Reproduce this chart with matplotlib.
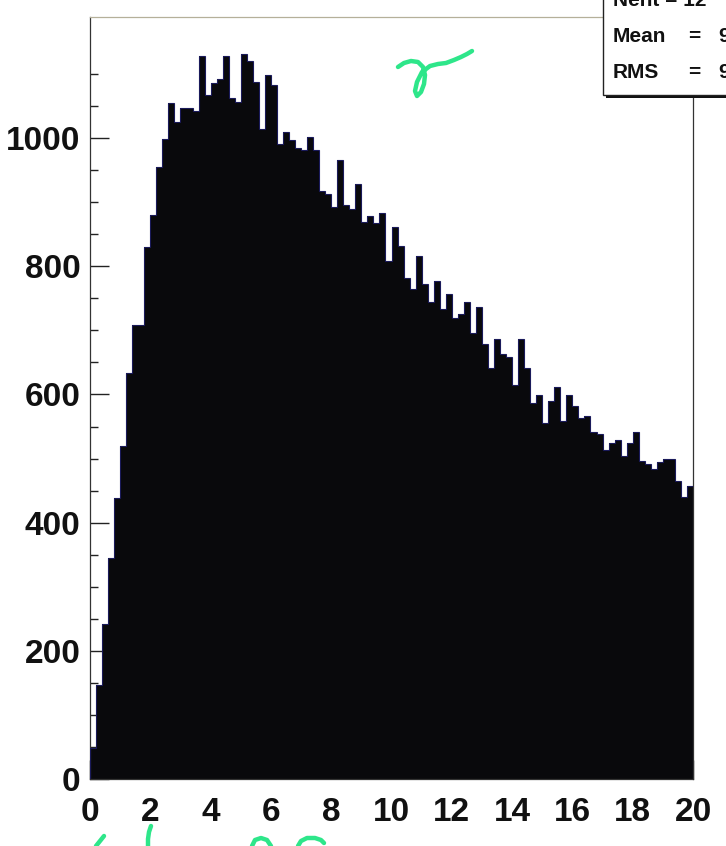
import numpy as np
import matplotlib.pyplot as plt
from matplotlib.lines import Line2D
from matplotlib.patches import Rectangle

# contenu des 100 bins (0 -> 20)
counts = [48, 147, 242, 345, 438, 520, 633, 709, 709, 830,
          880, 955, 998, 1055, 1025, 1047, 1047, 1043, 1128, 1068,
          1086, 1092, 1128, 1063, 1057, 1131, 1121, 1088, 1014, 1098,
          1083, 991, 1010, 997, 985, 982, 1002, 981, 917, 913,
          893, 966, 895, 890, 928, 869, 878, 867, 883, 809,
          861, 832, 781, 764, 816, 773, 745, 777, 733, 757,
          720, 725, 745, 696, 737, 679, 642, 686, 663, 659,
          615, 686, 641, 586, 599, 555, 590, 612, 559, 599,
          582, 563, 566, 542, 539, 513, 525, 529, 504, 525,
          542, 496, 492, 483, 495, 499, 499, 465, 440, 457]
x_min, x_max = 0, 20
x_ticks = [0, 2, 4, 6, 8, 10, 12, 14, 16, 18, 20]
y_ticks = [0, 200, 400, 600, 800, 1000]

stat_labels = ['Nent = 12', 'Mean', 'RMS']
stat_values = ['', '9', '9']

# traits verts (annotations a la main), en pixels
gamma_x = [398, 404, 411, 418, 423, 425, 424, 421, 417, 415, 417, 422, 430, 438, 446, 454, 461, 467, 472]
gamma_y = [67, 63, 61, 62, 67, 75, 84, 92, 96, 91, 82, 72, 66, 64, 63, 60, 57, 54, 51]
marks = [
    ([104, 100, 96], [836, 841, 846]),
    ([151, 149, 148, 148], [826, 832, 839, 846]),
    ([252, 255, 261, 267, 271], [846, 840, 838, 840, 846]),
    ([298, 301, 307, 315, 321, 324], [846, 841, 838, 838, 840, 843]),
]

W, H = 726, 846
plt.rcParams['font.family'] = ['Liberation Sans', 'DejaVu Sans']

fig = plt.figure(figsize=(W / 100, H / 100), dpi=100)
fig.patch.set_facecolor('white')
ax = fig.add_axes([90 / W, 1 - 779 / H, (693 - 90) / W, (779 - 17) / H])

edges = np.linspace(x_min, x_max, len(counts) + 1)
ax.stairs(counts, edges, fill=True, color='#09090c', zorder=2)
ax.stairs(counts, edges, color='#1a1a5a', lw=0.8, zorder=3)

ax.set_xlim(x_min, x_max)
ax.set_ylim(0, 1189)
ax.set_xticks(x_ticks)
ax.set_yticks(y_ticks)
ax.set_yticks(np.arange(0, 1150, 50), minor=True)
ax.set_xticks(np.arange(0, 20.01, 0.5), minor=True)

ax.tick_params(axis='both', which='both', direction='in', colors='#222222')
ax.tick_params(axis='y', which='major', length=13.5, width=1, pad=7, labelsize=24)
ax.tick_params(axis='y', which='minor', length=6, width=1)
ax.tick_params(axis='x', which='major', length=13.5, width=1, pad=13, labelsize=24)
ax.tick_params(axis='x', which='minor', length=6, width=1)
for lab in ax.get_xticklabels() + ax.get_yticklabels():
    lab.set_fontweight('bold')
    lab.set_color('#111111')

for s in ['left', 'right', 'bottom']:
    ax.spines[s].set_color('#333333')
    ax.spines[s].set_linewidth(0.9)
ax.spines['top'].set_color('#b5b09a')
ax.spines['top'].set_linewidth(0.9)


def fx(x):
    return x / W


def fy(y):
    return 1 - y / H


# boite de stats (coupee en haut a droite)
fig.add_artist(Rectangle((fx(606), fy(98)), fx(130), 110 / H, transform=fig.transFigure,
                         facecolor='#111111', edgecolor='none', zorder=5))
fig.add_artist(Rectangle((fx(603), fy(95)), fx(130), 110 / H, transform=fig.transFigure,
                         facecolor='white', edgecolor='#222222', lw=1, zorder=6))
row_y = [0, 37, 73]
for lab, val, y in zip(stat_labels, stat_values, row_y):
    fig.text(fx(613), fy(y), lab, fontsize=15, fontweight='bold', va='center', ha='left',
             color='#111111', zorder=7)
    if val:
        fig.text(fx(688), fy(y), '=', fontsize=15, fontweight='bold', va='center', ha='left',
                 color='#111111', zorder=7)
        fig.text(fx(718), fy(y), val, fontsize=15, fontweight='bold', va='center', ha='left',
                 color='#111111', zorder=7)

# annotations vertes
fig.add_artist(Line2D([fx(v) for v in gamma_x], [fy(v) for v in gamma_y], transform=fig.transFigure,
                      color='#2ee68a', lw=3.2, solid_capstyle='round', solid_joinstyle='round', zorder=8))
for mx, my in marks:
    fig.add_artist(Line2D([fx(v) for v in mx], [fy(v) for v in my], transform=fig.transFigure,
                          color='#2ee68a', lw=3.2, solid_capstyle='round', zorder=8))

fig.savefig('out.png', dpi=100)
